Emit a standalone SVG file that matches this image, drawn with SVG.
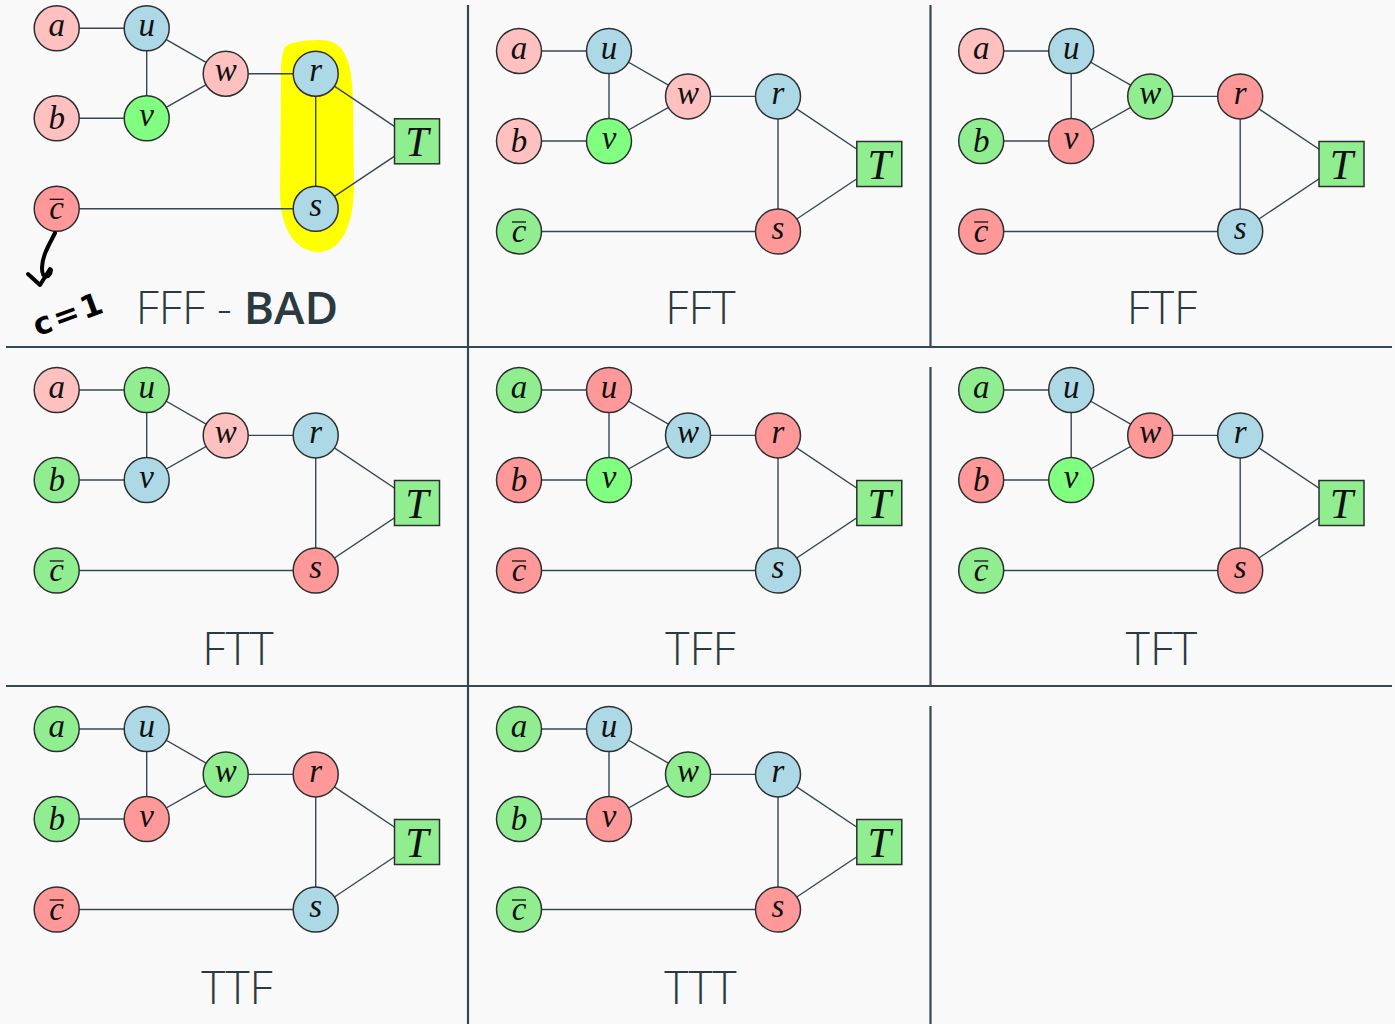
<svg xmlns="http://www.w3.org/2000/svg" width="1395" height="1024" viewBox="0 0 1395 1024">
<style>
.bg{fill:#f9f9f9}
.grid{stroke:#37474f;stroke-width:2.2;fill:none}
.e{stroke:#37474f;stroke-width:1.4;fill:none}
.n{stroke:#2b2f31;stroke-width:1.5}
.P{fill:#ffc0c0}.R{fill:#ff9999}.B{fill:#add8e6}.G{fill:#90ee90}.V{fill:#80ff80}
.m{font-family:"Liberation Serif","Times New Roman",serif;font-style:italic;font-size:33px;fill:#111;text-anchor:middle}
.mT{font-size:42px}
.bar{stroke:#111;stroke-width:1.3}
.title{font-family:"Open Sans","Noto Sans",sans-serif;font-weight:300;font-size:46px;fill:#2b3a40;text-anchor:middle}
.bold{font-weight:600}
.hand{stroke:#000;stroke-width:4;fill:none;stroke-linecap:round;stroke-linejoin:round}
</style>
<defs>
<g id="edges">
<line class="e" x1="0" y1="0" x2="90" y2="0"/><line class="e" x1="90" y1="0" x2="90" y2="90"/><line class="e" x1="90" y1="0" x2="169" y2="45.4"/><line class="e" x1="90" y1="90" x2="169" y2="45.4"/><line class="e" x1="0" y1="90" x2="90" y2="90"/><line class="e" x1="169" y1="45.4" x2="259" y2="45.4"/><line class="e" x1="259" y1="45.4" x2="259" y2="180.5"/><line class="e" x1="259" y1="45.4" x2="360" y2="113"/><line class="e" x1="259" y1="180.5" x2="360" y2="113"/><line class="e" x1="0" y1="180.5" x2="259" y2="180.5"/>
</g>
</defs>
<rect class="bg" x="0" y="0" width="1395" height="1024"/>
<g id="grid">
<line class="grid" x1="468" y1="5" x2="468" y2="1024"/>
<line class="grid" x1="930.5" y1="5" x2="930.5" y2="347"/>
<line class="grid" x1="930.5" y1="367" x2="930.5" y2="686"/>
<line class="grid" x1="930.5" y1="706" x2="930.5" y2="1024"/>
<line class="grid" x1="6" y1="347" x2="1392" y2="347"/>
<line class="grid" x1="6" y1="686" x2="1392" y2="686"/>
</g>
<g id="highlight">
<path d="M284,50 C284,43 302,40 320,40 C344,40 352,58 353,100 L354,185 C354,232 337,252 319,252 C296,252 280,230 280,192 L281,72 C281,60 282,54 284,50 Z" fill="#ffff00"/>
</g>

<!-- Panel 1: FFF - BAD -->
<g id="panel1" transform="translate(56.7,28.3)">
<g id="p1-connectors"><use href="#edges"/></g>
<g id="p1-a"><circle class="n P" cx="0" cy="0" r="22.5"/><text class="m" x="0" y="7.5">a</text></g>
<g id="p1-u"><circle class="n B" cx="90" cy="0" r="22.5"/><text class="m" x="90" y="7.5">u</text></g>
<g id="p1-w"><circle class="n P" cx="169" cy="45.4" r="22.5"/><text class="m" x="169" y="52.9">w</text></g>
<g id="p1-r"><circle class="n B" cx="259" cy="45.4" r="22.5"/><text class="m" x="259" y="52.9">r</text></g>
<g id="p1-b"><circle class="n P" cx="0" cy="90" r="22.5"/><text class="m" x="0" y="101">b</text></g>
<g id="p1-v"><circle class="n V" cx="90" cy="90" r="22.5"/><text class="m" x="90" y="97.5">v</text></g>
<g id="p1-c"><circle class="n R" cx="0" cy="180.5" r="22.5"/><text class="m" x="0" y="191">c</text><line class="bar" x1="-7" y1="171" x2="7" y2="171"/></g>
<g id="p1-s"><circle class="n B" cx="259" cy="180.5" r="22.5"/><text class="m" x="259" y="188">s</text></g>
<g id="p1-T"><rect class="n G" x="337.8" y="90.5" width="45" height="45"/><text class="m mT" x="360.3" y="127.5">T</text></g>
</g>
<g id="p1-title"><text class="title" x="237" y="324">FFF - <tspan class="bold">BAD</tspan></text></g>
<g id="annotation">
<path class="hand" d="M55,233 C49,245 42,256 42,268 C42,279 50,279 51,270"/>
<path class="hand" d="M28,274 L40,285 L50,269"/>
<text x="28" y="327" transform="rotate(-20 60 305)" font-family="DejaVu Sans,sans-serif" font-weight="bold" font-size="31" letter-spacing="3" fill="#000">c=1</text>
</g>

<!-- Panel 2: FFT -->
<g id="panel2" transform="translate(519,51)">
<g id="p2-connectors"><use href="#edges"/></g>
<g id="p2-a"><circle class="n P" cx="0" cy="0" r="22.5"/><text class="m" x="0" y="7.5">a</text></g>
<g id="p2-u"><circle class="n B" cx="90" cy="0" r="22.5"/><text class="m" x="90" y="7.5">u</text></g>
<g id="p2-w"><circle class="n P" cx="169" cy="45.4" r="22.5"/><text class="m" x="169" y="52.9">w</text></g>
<g id="p2-r"><circle class="n B" cx="259" cy="45.4" r="22.5"/><text class="m" x="259" y="52.9">r</text></g>
<g id="p2-b"><circle class="n P" cx="0" cy="90" r="22.5"/><text class="m" x="0" y="101">b</text></g>
<g id="p2-v"><circle class="n V" cx="90" cy="90" r="22.5"/><text class="m" x="90" y="97.5">v</text></g>
<g id="p2-c"><circle class="n G" cx="0" cy="180.5" r="22.5"/><text class="m" x="0" y="191">c</text><line class="bar" x1="-7" y1="171" x2="7" y2="171"/></g>
<g id="p2-s"><circle class="n R" cx="259" cy="180.5" r="22.5"/><text class="m" x="259" y="188">s</text></g>
<g id="p2-T"><rect class="n G" x="337.8" y="90.5" width="45" height="45"/><text class="m mT" x="360.3" y="127.5">T</text></g>
</g>
<g id="p2-title"><text class="title" x="700.5" y="324">FFT</text></g>

<!-- Panel 3: FTF -->
<g id="panel3" transform="translate(981.2,51)">
<g id="p3-connectors"><use href="#edges"/></g>
<g id="p3-a"><circle class="n P" cx="0" cy="0" r="22.5"/><text class="m" x="0" y="7.5">a</text></g>
<g id="p3-u"><circle class="n B" cx="90" cy="0" r="22.5"/><text class="m" x="90" y="7.5">u</text></g>
<g id="p3-w"><circle class="n G" cx="169" cy="45.4" r="22.5"/><text class="m" x="169" y="52.9">w</text></g>
<g id="p3-r"><circle class="n R" cx="259" cy="45.4" r="22.5"/><text class="m" x="259" y="52.9">r</text></g>
<g id="p3-b"><circle class="n G" cx="0" cy="90" r="22.5"/><text class="m" x="0" y="101">b</text></g>
<g id="p3-v"><circle class="n R" cx="90" cy="90" r="22.5"/><text class="m" x="90" y="97.5">v</text></g>
<g id="p3-c"><circle class="n R" cx="0" cy="180.5" r="22.5"/><text class="m" x="0" y="191">c</text><line class="bar" x1="-7" y1="171" x2="7" y2="171"/></g>
<g id="p3-s"><circle class="n B" cx="259" cy="180.5" r="22.5"/><text class="m" x="259" y="188">s</text></g>
<g id="p3-T"><rect class="n G" x="337.8" y="90.5" width="45" height="45"/><text class="m mT" x="360.3" y="127.5">T</text></g>
</g>
<g id="p3-title"><text class="title" x="1162" y="324">FTF</text></g>

<!-- Panel 4: FTT -->
<g id="panel4" transform="translate(56.7,390)">
<g id="p4-connectors"><use href="#edges"/></g>
<g id="p4-a"><circle class="n P" cx="0" cy="0" r="22.5"/><text class="m" x="0" y="7.5">a</text></g>
<g id="p4-u"><circle class="n G" cx="90" cy="0" r="22.5"/><text class="m" x="90" y="7.5">u</text></g>
<g id="p4-w"><circle class="n P" cx="169" cy="45.4" r="22.5"/><text class="m" x="169" y="52.9">w</text></g>
<g id="p4-r"><circle class="n B" cx="259" cy="45.4" r="22.5"/><text class="m" x="259" y="52.9">r</text></g>
<g id="p4-b"><circle class="n G" cx="0" cy="90" r="22.5"/><text class="m" x="0" y="101">b</text></g>
<g id="p4-v"><circle class="n B" cx="90" cy="90" r="22.5"/><text class="m" x="90" y="97.5">v</text></g>
<g id="p4-c"><circle class="n G" cx="0" cy="180.5" r="22.5"/><text class="m" x="0" y="191">c</text><line class="bar" x1="-7" y1="171" x2="7" y2="171"/></g>
<g id="p4-s"><circle class="n R" cx="259" cy="180.5" r="22.5"/><text class="m" x="259" y="188">s</text></g>
<g id="p4-T"><rect class="n G" x="337.8" y="90.5" width="45" height="45"/><text class="m mT" x="360.3" y="127.5">T</text></g>
</g>
<g id="p4-title"><text class="title" x="238" y="664.5">FTT</text></g>

<!-- Panel 5: TFF -->
<g id="panel5" transform="translate(519,390)">
<g id="p5-connectors"><use href="#edges"/></g>
<g id="p5-a"><circle class="n G" cx="0" cy="0" r="22.5"/><text class="m" x="0" y="7.5">a</text></g>
<g id="p5-u"><circle class="n R" cx="90" cy="0" r="22.5"/><text class="m" x="90" y="7.5">u</text></g>
<g id="p5-w"><circle class="n B" cx="169" cy="45.4" r="22.5"/><text class="m" x="169" y="52.9">w</text></g>
<g id="p5-r"><circle class="n R" cx="259" cy="45.4" r="22.5"/><text class="m" x="259" y="52.9">r</text></g>
<g id="p5-b"><circle class="n R" cx="0" cy="90" r="22.5"/><text class="m" x="0" y="101">b</text></g>
<g id="p5-v"><circle class="n V" cx="90" cy="90" r="22.5"/><text class="m" x="90" y="97.5">v</text></g>
<g id="p5-c"><circle class="n R" cx="0" cy="180.5" r="22.5"/><text class="m" x="0" y="191">c</text><line class="bar" x1="-7" y1="171" x2="7" y2="171"/></g>
<g id="p5-s"><circle class="n B" cx="259" cy="180.5" r="22.5"/><text class="m" x="259" y="188">s</text></g>
<g id="p5-T"><rect class="n G" x="337.8" y="90.5" width="45" height="45"/><text class="m mT" x="360.3" y="127.5">T</text></g>
</g>
<g id="p5-title"><text class="title" x="700.5" y="664.5">TFF</text></g>

<!-- Panel 6: TFT -->
<g id="panel6" transform="translate(981.2,390)">
<g id="p6-connectors"><use href="#edges"/></g>
<g id="p6-a"><circle class="n G" cx="0" cy="0" r="22.5"/><text class="m" x="0" y="7.5">a</text></g>
<g id="p6-u"><circle class="n B" cx="90" cy="0" r="22.5"/><text class="m" x="90" y="7.5">u</text></g>
<g id="p6-w"><circle class="n R" cx="169" cy="45.4" r="22.5"/><text class="m" x="169" y="52.9">w</text></g>
<g id="p6-r"><circle class="n B" cx="259" cy="45.4" r="22.5"/><text class="m" x="259" y="52.9">r</text></g>
<g id="p6-b"><circle class="n R" cx="0" cy="90" r="22.5"/><text class="m" x="0" y="101">b</text></g>
<g id="p6-v"><circle class="n V" cx="90" cy="90" r="22.5"/><text class="m" x="90" y="97.5">v</text></g>
<g id="p6-c"><circle class="n G" cx="0" cy="180.5" r="22.5"/><text class="m" x="0" y="191">c</text><line class="bar" x1="-7" y1="171" x2="7" y2="171"/></g>
<g id="p6-s"><circle class="n R" cx="259" cy="180.5" r="22.5"/><text class="m" x="259" y="188">s</text></g>
<g id="p6-T"><rect class="n G" x="337.8" y="90.5" width="45" height="45"/><text class="m mT" x="360.3" y="127.5">T</text></g>
</g>
<g id="p6-title"><text class="title" x="1161.5" y="664.5">TFT</text></g>

<!-- Panel 7: TTF -->
<g id="panel7" transform="translate(56.7,729)">
<g id="p7-connectors"><use href="#edges"/></g>
<g id="p7-a"><circle class="n G" cx="0" cy="0" r="22.5"/><text class="m" x="0" y="7.5">a</text></g>
<g id="p7-u"><circle class="n B" cx="90" cy="0" r="22.5"/><text class="m" x="90" y="7.5">u</text></g>
<g id="p7-w"><circle class="n G" cx="169" cy="45.4" r="22.5"/><text class="m" x="169" y="52.9">w</text></g>
<g id="p7-r"><circle class="n R" cx="259" cy="45.4" r="22.5"/><text class="m" x="259" y="52.9">r</text></g>
<g id="p7-b"><circle class="n G" cx="0" cy="90" r="22.5"/><text class="m" x="0" y="101">b</text></g>
<g id="p7-v"><circle class="n R" cx="90" cy="90" r="22.5"/><text class="m" x="90" y="97.5">v</text></g>
<g id="p7-c"><circle class="n R" cx="0" cy="180.5" r="22.5"/><text class="m" x="0" y="191">c</text><line class="bar" x1="-7" y1="171" x2="7" y2="171"/></g>
<g id="p7-s"><circle class="n B" cx="259" cy="180.5" r="22.5"/><text class="m" x="259" y="188">s</text></g>
<g id="p7-T"><rect class="n G" x="337.8" y="90.5" width="45" height="45"/><text class="m mT" x="360.3" y="127.5">T</text></g>
</g>
<g id="p7-title"><text class="title" x="237" y="1003.5">TTF</text></g>

<!-- Panel 8: TTT -->
<g id="panel8" transform="translate(519,729)">
<g id="p8-connectors"><use href="#edges"/></g>
<g id="p8-a"><circle class="n G" cx="0" cy="0" r="22.5"/><text class="m" x="0" y="7.5">a</text></g>
<g id="p8-u"><circle class="n B" cx="90" cy="0" r="22.5"/><text class="m" x="90" y="7.5">u</text></g>
<g id="p8-w"><circle class="n G" cx="169" cy="45.4" r="22.5"/><text class="m" x="169" y="52.9">w</text></g>
<g id="p8-r"><circle class="n B" cx="259" cy="45.4" r="22.5"/><text class="m" x="259" y="52.9">r</text></g>
<g id="p8-b"><circle class="n G" cx="0" cy="90" r="22.5"/><text class="m" x="0" y="101">b</text></g>
<g id="p8-v"><circle class="n R" cx="90" cy="90" r="22.5"/><text class="m" x="90" y="97.5">v</text></g>
<g id="p8-c"><circle class="n G" cx="0" cy="180.5" r="22.5"/><text class="m" x="0" y="191">c</text><line class="bar" x1="-7" y1="171" x2="7" y2="171"/></g>
<g id="p8-s"><circle class="n R" cx="259" cy="180.5" r="22.5"/><text class="m" x="259" y="188">s</text></g>
<g id="p8-T"><rect class="n G" x="337.8" y="90.5" width="45" height="45"/><text class="m mT" x="360.3" y="127.5">T</text></g>
</g>
<g id="p8-title"><text class="title" x="700.5" y="1003.5">TTT</text></g>
</svg>
